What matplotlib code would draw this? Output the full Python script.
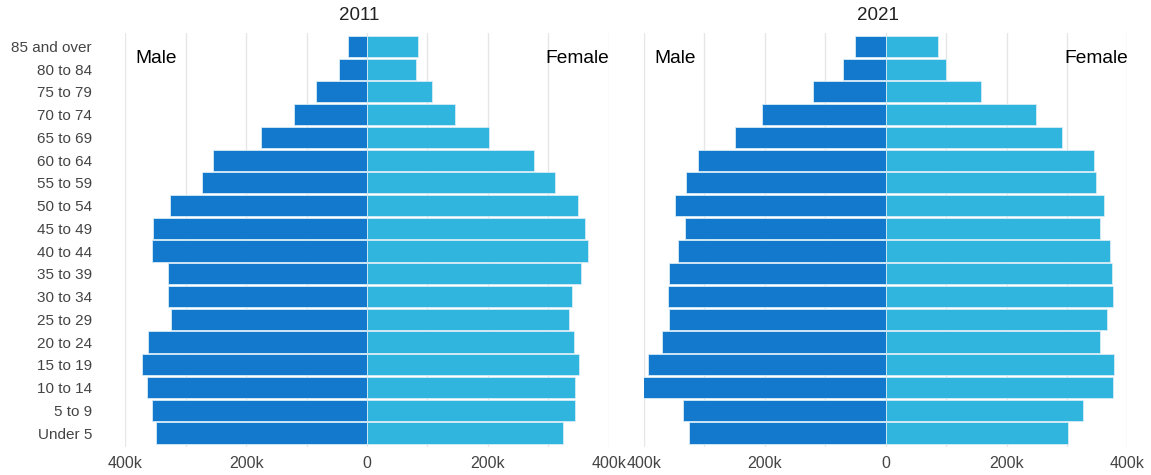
import matplotlib
matplotlib.use("Agg")
import matplotlib.pyplot as plt
import numpy as np

plt.rcParams['font.family'] = ['Liberation Sans', 'DejaVu Sans']

age_groups = ["Under 5", "5 to 9", "10 to 14", "15 to 19", "20 to 24", "25 to 29",
              "30 to 34", "35 to 39", "40 to 44", "45 to 49", "50 to 54", "55 to 59",
              "60 to 64", "65 to 69", "70 to 74", "75 to 79", "80 to 84", "85 and over"]

# values in thousands, listed from "Under 5" to "85 and over"
male_2011 = [350, 355, 364, 372, 362, 324, 329, 329, 356, 354, 326, 273,
             255, 175, 121, 85, 46, 32]
female_2011 = [324, 344, 344, 351, 343, 334, 340, 354, 365, 361, 350, 311,
               276, 202, 145, 107, 81, 84]
male_2021 = [325, 336, 401, 393, 371, 359, 361, 359, 343, 332, 349, 331,
             310, 250, 204, 120, 70, 51]
female_2021 = [302, 327, 376, 378, 354, 367, 376, 374, 371, 355, 361, 348,
               345, 292, 249, 158, 100, 87]

years = ["2011", "2021"]
tick_vals = [-400, -200, 0, 200, 400]
tick_labels = ["400k", "200k", "0", "200k", "400k"]

male_color = "#1379cd"
female_color = "#2fb5de"

W, H = 1151, 475
fig = plt.figure(figsize=(W / 100, H / 100), dpi=100)

ax_left_px = [125.3, 644.0]
ax_w_px = 483.4
ax_top, ax_bot = 32.7, 446.7

data = [(male_2011, female_2011), (male_2021, female_2021)]
y = np.arange(len(age_groups))

for i, (m, f) in enumerate(data):
    ax = fig.add_axes([ax_left_px[i] / W, (H - ax_bot) / H, ax_w_px / W, (ax_bot - ax_top) / H])
    ax.barh(y, -np.array(m) * 1000, height=0.93, color=male_color,
            edgecolor="#d8ecf7", linewidth=0.6, zorder=3)
    ax.barh(y, np.array(f) * 1000, height=0.93, color=female_color,
            edgecolor="#d8ecf7", linewidth=0.6, zorder=3)
    ax.set_xlim(-400000, 400000)
    ax.set_ylim(-0.6, len(age_groups) - 0.4)
    ax.set_xticks([v * 1000 for v in tick_vals])
    ax.set_xticklabels(tick_labels)
    for g in range(-400000, 400001, 100000):
        ax.axvline(g, color="#e6e6e6", lw=1.0, zorder=0)
    for s in ax.spines.values():
        s.set_visible(False)
    ax.tick_params(axis='x', length=0, pad=7, labelsize=11.5, labelcolor="#444444")
    ax.set_yticks(y)
    if i == 0:
        ax.set_yticklabels(age_groups)
        ax.tick_params(axis='y', length=0, pad=24, labelsize=11, labelcolor="#444444")
    else:
        ax.set_yticklabels([])
        ax.tick_params(axis='y', length=0)
    ax.text(-383000, 16.45, "Male", ha="left", va="center", fontsize=13.8, color="black", zorder=4)
    ax.text(401000, 16.45, "Female", ha="right", va="center", fontsize=13.8, color="black", zorder=4)

fig.text(359.5 / W, 1 - 15 / H, years[0], ha="center", va="center", fontsize=13.5, color="#222222")
fig.text(877.5 / W, 1 - 15 / H, years[1], ha="center", va="center", fontsize=13.5, color="#222222")

fig.savefig("out.png", dpi=100)
